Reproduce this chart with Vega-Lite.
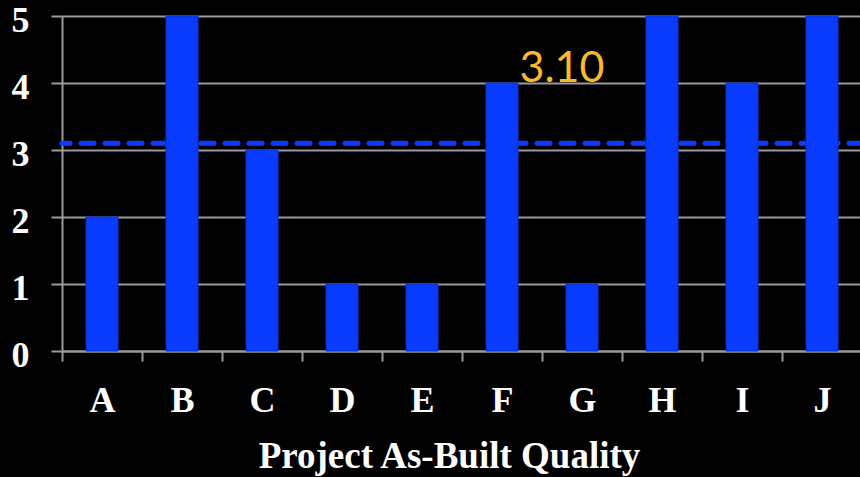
{
  "$schema": "https://vega.github.io/schema/vega-lite/v6.json",
  "background": "black",
  "autosize": "none",
  "padding": {"left": 62, "top": 16, "right": 0, "bottom": 126},
  "width": 800,
  "height": 335,
  "datasets": {
    "projects": [
      {"project": "A", "score": 2},
      {"project": "B", "score": 5},
      {"project": "C", "score": 3},
      {"project": "D", "score": 1},
      {"project": "E", "score": 1},
      {"project": "F", "score": 4},
      {"project": "G", "score": 1},
      {"project": "H", "score": 5},
      {"project": "I", "score": 4},
      {"project": "J", "score": 5}
    ],
    "average": [{"avg": 3.1}]
  },
  "encoding": {
    "x": {
      "field": "project",
      "type": "nominal",
      "scale": {"paddingInner": 0.6, "paddingOuter": 0.3},
      "axis": {
        "title": "Project As-Built Quality",
        "labelAngle": 0,
        "labelFont": "Liberation Serif",
        "labelFontWeight": "bold",
        "labelFontSize": 36,
        "labelColor": "white",
        "labelPadding": 22,
        "labelOffset": 40,
        "tickOffset": -40,
        "tickSize": 10,
        "tickWidth": 2,
        "tickColor": "#9a9a9a",
        "domainColor": "#9a9a9a",
        "domainWidth": 2,
        "titleFont": "Liberation Serif",
        "titleFontWeight": "bold",
        "titleFontSize": 37,
        "titleColor": "white",
        "titleBaseline": "alphabetic",
        "titleAlign": "center",
        "titleX": 387,
        "titleY": 116
      }
    }
  },
  "layer": [
    {
      "data": {"name": "average"},
      "mark": {
        "type": "rule",
        "color": "#0a3cff",
        "strokeWidth": 5,
        "strokeCap": "round",
        "strokeDash": [13, 11]
      },
      "encoding": {
        "x": null,
        "y": {"field": "avg", "type": "quantitative", "scale": {"domain": [0, 5]}}
      }
    },
    {
      "data": {"name": "projects"},
      "mark": {"type": "bar", "color": "#0a3cff", "stroke": "#0a2fd0", "strokeWidth": 1},
      "encoding": {
        "y": {
          "field": "score",
          "type": "quantitative",
          "scale": {"domain": [0, 5]},
          "axis": {
            "title": null,
            "values": [0, 1, 2, 3, 4, 5],
            "format": "d",
            "labelFont": "Liberation Serif",
            "labelFontWeight": "bold",
            "labelFontSize": 36,
            "labelColor": "white",
            "labelPadding": 22,
            "labelOffset": 4,
            "tickSize": 11,
            "tickWidth": 2,
            "tickColor": "#9a9a9a",
            "domainColor": "#9a9a9a",
            "domainWidth": 2,
            "grid": true,
            "gridColor": "#9a9a9a",
            "gridWidth": 2
          }
        }
      }
    },
    {
      "data": {"name": "average"},
      "mark": {
        "type": "text",
        "font": "Lato",
        "fontSize": 43,
        "color": "#f9b92c",
        "align": "center",
        "baseline": "alphabetic",
        "dx": -20,
        "dy": -61
      },
      "encoding": {
        "x": {"datum": "G", "type": "nominal"},
        "y": {"field": "avg", "type": "quantitative"},
        "text": {"field": "avg", "type": "quantitative", "format": ".2f"}
      }
    }
  ]
}
